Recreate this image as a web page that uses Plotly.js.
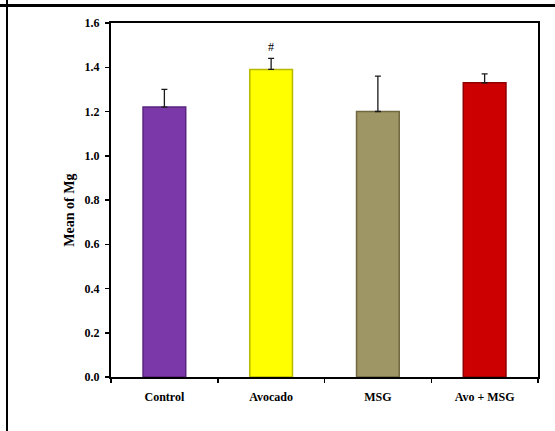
<!DOCTYPE html>
<html><head><meta charset="utf-8">
<script src="https://cdn.plot.ly/plotly-3.0.1.min.js"></script>
<style>
html,body{margin:0;padding:0;background:#fff;}
#wrap{position:relative;width:555px;height:431px;overflow:hidden;}
#chart{position:absolute;left:0;top:0;width:555px;height:431px;}
.hl{position:absolute;left:0;top:4px;width:555px;height:3px;background:#000;}
.vl{position:absolute;left:6px;top:0;width:2px;height:431px;background:#000;}
</style>
</head><body>
<div id="wrap"><div id="chart"></div><div class="hl"></div><div class="vl"></div></div>
<script>
const categories = ["Control", "Avocado", "MSG", "Avo + MSG"];
const means = [1.22, 1.39, 1.20, 1.33];
const errors = [0.08, 0.05, 0.16, 0.04];
const colors = ["#7B38A8", "#FFFF00", "#9E9664", "#CC0000"];
const outlines = ["#5a2580", "#b8b800", "#6f6842", "#8f0000"];
const yTicks = [0, 0.2, 0.4, 0.6, 0.8, 1.0, 1.2, 1.4, 1.6];
const yTitle = "Mean of Mg";
const markLabel = "#";
const markIndex = 1;

const trace = {
  type: "bar",
  x: categories,
  y: means,
  marker: {color: colors, line: {color: outlines, width: 1.5}},
  error_y: {type: "data", array: errors, visible: true, symmetric: false, arrayminus: [0,0,0,0], color: "#1a1a1a", thickness: 1.3, width: 3},
  hoverinfo: "none"
};
const fam = "Liberation Serif, Times New Roman, serif";
const layout = {
  width: 555, height: 431,
  margin: {l: 111, r: 17, t: 23, b: 54},
  paper_bgcolor: "#fff", plot_bgcolor: "#fff",
  showlegend: false,
  bargap: 0.6,
  font: {family: fam, size: 12, color: "#000"},
  xaxis: {
    showline: true, linecolor: "#000", linewidth: 2, mirror: true,
    ticks: "outside", tickson: "boundaries", ticklen: 4, tickcolor: "#000", tickwidth: 1.5,
    ticklabelstandoff: 8,
    tickfont: {family: fam, size: 12, color: "#000", weight: "bold"},
    fixedrange: true
  },
  yaxis: {
    range: [0, 1.6], tickvals: yTicks, ticktext: yTicks.map(v => v.toFixed(1)),
    showline: true, linecolor: "#000", linewidth: 2, mirror: true, showgrid: false, zeroline: false,
    ticks: "outside", ticklen: 4, tickcolor: "#000", tickwidth: 1.5,
    ticklabelstandoff: 3,
    tickfont: {family: fam, size: 12, color: "#000", weight: "bold"},
    fixedrange: true
  },
  annotations: [{
    x: categories[markIndex], y: means[markIndex] + errors[markIndex], xref: "x", yref: "y",
    text: markLabel, showarrow: false, yanchor: "bottom", yshift: 2,
    font: {family: fam, size: 12, color: "#000"}
  }, {
    x: -0.096, y: 0.47, xref: "paper", yref: "paper", textangle: -90,
    text: yTitle, showarrow: false, xanchor: "center", yanchor: "middle",
    font: {family: fam, size: 14, color: "#000", weight: "bold"}
  }]
};
Plotly.newPlot("chart", [trace], layout, {displayModeBar: false, staticPlot: true});
</script>
</body></html>
